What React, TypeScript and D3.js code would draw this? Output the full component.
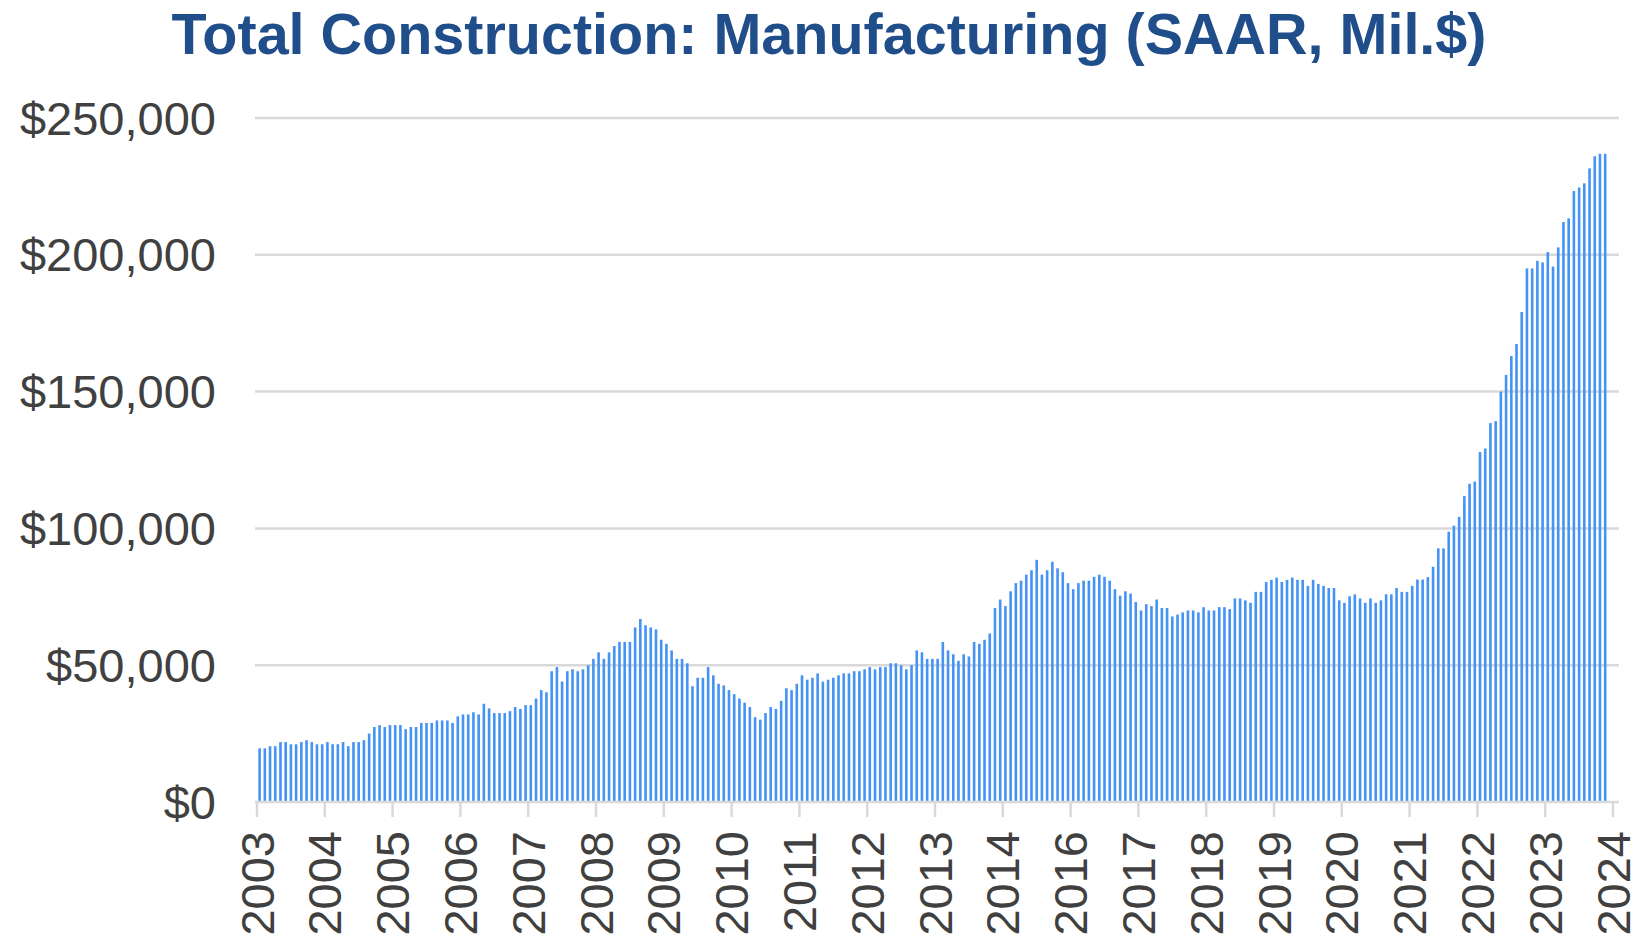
import React from 'react';
import * as d3 from 'd3';

const TITLE = 'Total Construction: Manufacturing (SAAR, Mil.$)';

// Y axis ticks (Mil.$)
const yTicks = [0, 50000, 100000, 150000, 200000, 250000];

// Category-axis labels, shown every 13th month (as in the source chart)
const xTickLabels = [
  '2003', '2004', '2005', '2006', '2007', '2008', '2009', '2010', '2011', '2012',
  '2013', '2014', '2016', '2017', '2018', '2019', '2020', '2021', '2022', '2023', '2024',
];
const LABEL_EVERY = 13;

// Monthly values, SAAR, Mil.$
const v2003to2006 = [
  19600, 19600, 20400, 20400, 21900, 21900, 21100, 21100, 21900, 22600, 21900, 21100,
  21100, 21900, 21100, 21100, 21900, 20400, 21900, 21900, 22600, 25000, 27400, 28100,
  27400, 28100, 28100, 28100, 26600, 27400, 27400, 28900, 28900, 28900, 29800, 29800,
  29800, 28900, 31300, 32000, 32000, 32800, 32000, 35900, 34200, 32500, 32500, 32500,
];
const v2007to2010 = [
  33200, 34700, 34000, 35400, 35400, 37800, 40900, 40100, 47800, 49300, 44000, 47800,
  48500, 47800, 48500, 50000, 52300, 54700, 52300, 54700, 57000, 58500, 58500, 58500,
  63800, 66900, 64600, 63800, 63100, 59300, 57800, 55400, 52300, 52300, 50700, 42300,
  45400, 45400, 49300, 46300, 43200, 42600, 40900, 39400, 37800, 36300, 34700, 31000,
];
const v2011to2014 = [
  30100, 32500, 34700, 34000, 37000, 41600, 40900, 43200, 46300, 44700, 45400, 47000,
  44000, 44700, 45400, 46300, 47000, 47000, 47800, 47800, 48500, 49300, 48500, 49300,
  49300, 50700, 50700, 50000, 48500, 50000, 55400, 54700, 52300, 52300, 52300, 58500,
  55400, 54000, 51600, 54000, 53200, 58500, 57800, 59300, 61600, 70900, 74000, 71600,
];
const v2015to2018 = [
  77000, 80000, 80900, 83100, 84700, 88500, 83100, 84700, 87800, 85400, 84000, 80000,
  77800, 80000, 80900, 80900, 82300, 83100, 82300, 80900, 77800, 75400, 77000, 76200,
  73100, 70000, 72300, 71600, 74000, 70900, 70900, 67800, 68500, 69300, 70000, 70000,
  69300, 71200, 70000, 70000, 71200, 71200, 70500, 74400, 74400, 73700, 72800, 76800,
];
const v2019to2021 = [
  76800, 80400, 81200, 82000, 80400, 81200, 82000, 81200, 81200, 79000, 81200, 79700,
  79000, 78200, 78200, 73700, 72800, 75200, 75900, 74400, 72800, 74400, 72800, 73700,
  75900, 75900, 78200, 76800, 76800, 79000, 81300, 81300, 82200, 86000, 92700, 92700,
];
const v2022to2024 = [
  98800, 101000, 104200, 111800, 116300, 117100, 127900, 129200, 138500, 139200, 150000, 156100,
  163000, 167400, 179100, 195000, 195000, 197800, 197200, 201000, 195700, 202700, 212000, 213300,
  223300, 224600, 226100, 231600, 236000, 236900, 236900,
];

const values: number[] = [
  ...v2003to2006, ...v2007to2010, ...v2011to2014,
  ...v2015to2018, ...v2019to2021, ...v2022to2024,
];

// Category slots: Jan 2003 .. Aug 2024 (last slot empty)
const months = d3.timeMonth.range(new Date(2003, 0, 1), new Date(2024, 8, 1));

const FONT = "'Liberation Sans', Arial, Helvetica, sans-serif";

export default function App() {
  const W = 1639;
  const H = 940;
  const left = 257;
  const right = 1613;
  const top = 118;
  const bottom = 802;

  const x = d3.scaleBand<number>()
    .domain(d3.range(months.length))
    .range([left, right])
    .padding(0);
  const y = d3.scaleLinear().domain([0, 250000]).range([bottom, top]);
  const step = x.step();
  const barW = step * 0.5;
  const fmt = (v: number) => '$' + d3.format(',')(v);

  const tickXs = xTickLabels.map((_, k) => left + k * LABEL_EVERY * step);

  return (
    <div>
      <style>{`body{margin:0;background:#fff}`}</style>
      <svg width={W} height={H} style={{ display: 'block' }}>
        <rect x={0} y={0} width={W} height={H} fill="#ffffff" />
        <text
          x={829}
          y={54}
          textAnchor="middle"
          fontFamily={FONT}
          fontWeight="bold"
          fontSize={57.5}
          fill="#1F4E8A"
        >
          {TITLE}
        </text>

        {/* gridlines + y labels */}
        {yTicks.map((t) => (
          <g key={t}>
            {t > 0 && (
              <line x1={255} x2={1619} y1={y(t)} y2={y(t)} stroke="#d9d9d9" strokeWidth={2.5} />
            )}
            <text
              x={216}
              y={y(t)}
              textAnchor="end"
              dominantBaseline="central"
              fontFamily={FONT}
              fontSize={47}
              fill="#404040"
            >
              {fmt(t)}
            </text>
          </g>
        ))}

        {/* bars */}
        {values.map((v, i) => (
          <rect
            key={i}
            x={(x(i) as number) + (step - barW) / 2}
            y={y(v)}
            width={barW}
            height={bottom - y(v)}
            fill="#4593f5"
          />
        ))}

        {/* x axis */}
        <line x1={255} x2={1619} y1={bottom} y2={bottom} stroke="#d9d9d9" strokeWidth={2.5} />
        {tickXs.map((tx, k) => (
          <g key={k}>
            <line x1={tx} x2={tx} y1={bottom} y2={bottom + 15} stroke="#d9d9d9" strokeWidth={2.5} />
            <text
              transform={`translate(${tx},831) rotate(-90)`}
              textAnchor="end"
              dominantBaseline="central"
              fontFamily={FONT}
              fontSize={47}
              fill="#404040"
            >
              {xTickLabels[k]}
            </text>
          </g>
        ))}
      </svg>
    </div>
  );
}
